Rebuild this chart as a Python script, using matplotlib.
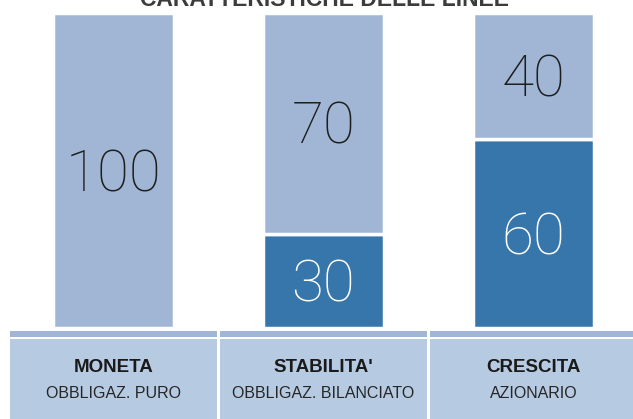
import numpy as np
import matplotlib.pyplot as plt
from matplotlib.transforms import offset_copy

# Chart data
lines = ['MONETA', "STABILITA'", 'CRESCITA']
subtitles = ['OBBLIGAZ. PURO', 'OBBLIGAZ. BILANCIATO', 'AZIONARIO']
equity = [0, 30, 60]        # dark segment (bottom)
bonds = [100, 70, 40]       # light segment (top)
title = 'CARATTERISTICHE DELLE LINEE'

light = '#a0b6d4'
dark = '#3776ab'
box_col = '#b6cae2'
sans = ['Liberation Sans', 'DejaVu Sans']
num_font = ['Roboto', 'Liberation Sans', 'DejaVu Sans']

W, H = 633, 419
fig = plt.figure(figsize=(W / 100, H / 100), dpi=100)
fig.patch.set_facecolor('white')

x = np.arange(len(lines))
xlim = (-113.5 / 210, (W - 113.5) / 210)

# Main bar area: value 0 at pixel 328, 100 at pixel 13
ax = fig.add_axes([0, (H - 328) / H, 1, (328 - 13) / H])
ax.bar(x, equity, width=0.574, color=dark, edgecolor='white', linewidth=2.5)
ax.bar(x, bonds, width=0.574, bottom=equity, color=light, edgecolor='white', linewidth=2.5)
ax.set_xlim(*xlim)
ax.set_ylim(0, 100)
ax.axis('off')

num_size = 42
# baseline shifted down by half the digit height so digits sit centred
num_tr = offset_copy(ax.transData, fig=fig, x=0, y=-num_size * 0.71 / 2, units='points')
for i in range(len(lines)):
    if equity[i] > 0:
        ax.text(x[i], equity[i] / 2, str(equity[i]), ha='center', va='baseline',
                fontsize=num_size, color='white', family=num_font,
                fontweight='light', transform=num_tr)
    ax.text(x[i], equity[i] + bonds[i] / 2, str(bonds[i]), ha='center', va='baseline',
            fontsize=num_size, color='#1e1e1e', family=num_font,
            fontweight='light', transform=num_tr)

# Label boxes at the bottom
tax = fig.add_axes([0, 0, 1, (H - 331) / H])
tax.bar(x, 6, width=0.986, bottom=82, color=light)
tax.bar(x, 80, width=0.986, bottom=0, color=box_col)
tax.set_xlim(*xlim)
tax.set_ylim(0, 88)
tax.axis('off')

for i in range(len(lines)):
    tax.text(x[i], 47.5, lines[i], ha='center', va='baseline', fontsize=13.5,
             fontweight='bold', color='#1a1a1a', family=sans)
    tax.text(x[i], 21.5, subtitles[i], ha='center', va='baseline', fontsize=11.5,
             color='#262626', family=sans)

fig.text(325 / W, (H - 6) / H, title, ha='center', va='baseline', fontsize=16.5,
         fontweight='bold', color='#3c3c3c', family=sans)

fig.savefig('out.png', dpi=100)
